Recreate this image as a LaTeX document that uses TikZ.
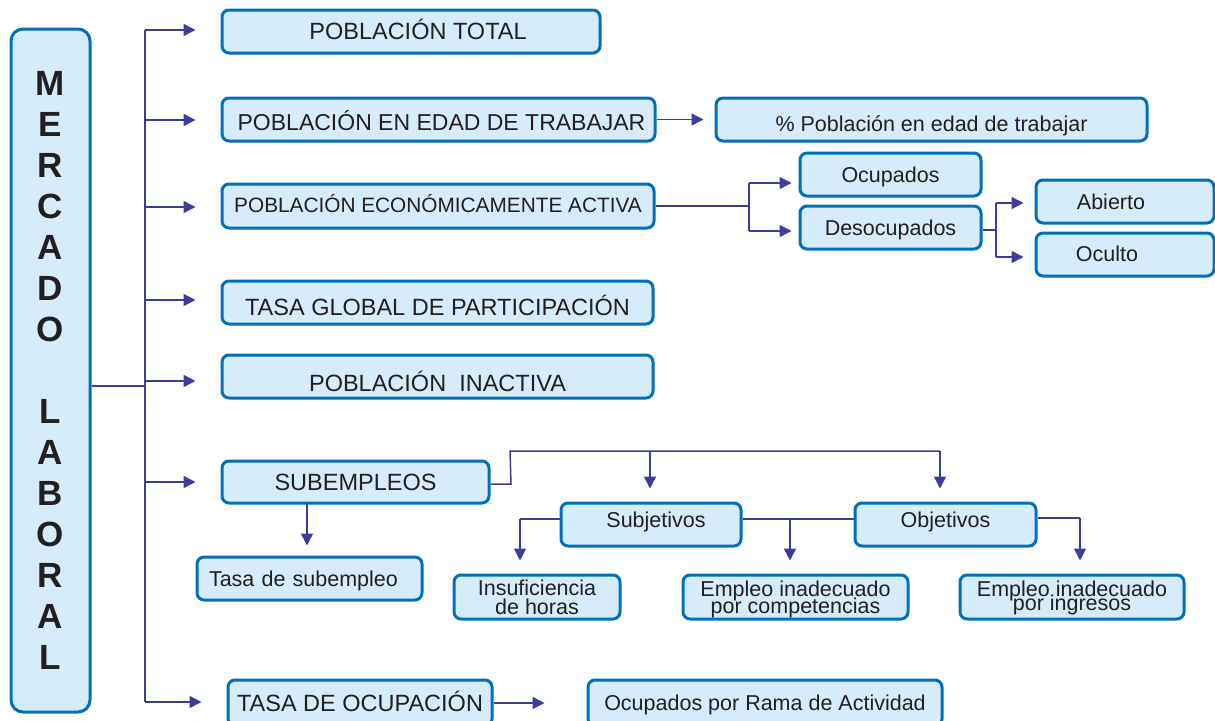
\documentclass[tikz,border=0pt]{standalone}
\usepackage{fontspec}
\setmainfont{Liberation Sans}
\usetikzlibrary{arrows.meta}
\definecolor{bord}{RGB}{0,112,187}
\definecolor{fillc}{RGB}{214,236,250}
\definecolor{conn}{RGB}{60,60,155}
\definecolor{txt}{RGB}{35,31,32}
\newcommand\tightlines{\lineskiplimit -50pt\relax}
\begin{document}
\begin{tikzpicture}[x=1pt,y=-1pt,
  box/.style={draw=bord, fill=fillc, line width=3pt, rounded corners=7pt, inner sep=0pt,
    text=txt, font=\fontsize{21.5}{19}\selectfont, align=center,
    text height=15.4pt, text depth=0pt},
  caps/.style={font=\fontsize{23.5}{24}\selectfont, text height=16.8pt},
  two/.style={text height=, text depth=},
  ln/.style={draw=conn, line width=1.5pt},
  arr/.style={ln, -{Triangle[length=12pt,width=12pt]}}]
\useasboundingbox (0,0) rectangle (1215,720);
% main column
\node[box, two, rounded corners=12pt, minimum width=79pt, minimum height=683pt,
  font=\fontsize{35}{41}\bfseries] (mer) at (50.5,370.5)
  {M\\E\\R\\C\\A\\D\\O\\[41pt]L\\A\\B\\O\\R\\A\\L};
% boxes
\node[box,caps,minimum width=378pt,minimum height=43pt] (tot) at (411,31.5) {\hspace*{14pt}POBLACIÓN TOTAL};
\node[box,caps,font=\fontsize{23}{24}\selectfont,text height=21pt,minimum width=433pt,minimum height=43pt] (pet) at (438.5,119.5) {\hspace*{6pt}POBLACIÓN EN EDAD DE TRABAJAR};
\node[box,text height=23pt,minimum width=431pt,minimum height=43pt] (pct) at (931.5,119.5) {\% Población en edad de trabajar};
\node[box,font=\fontsize{20.8}{22}\selectfont,text height=12.6pt,minimum width=432pt,minimum height=44pt] (pea) at (438,206) {POBLACIÓN ECONÓMICAMENTE ACTIVA};
\node[box,minimum width=181pt,minimum height=43pt] (ocu) at (890.5,174.5) {Ocupados};
\node[box,minimum width=181pt,minimum height=43pt] (des) at (890.5,227.5) {Desocupados};
\node[box,minimum width=178pt,minimum height=43pt] (abi) at (1125,201.5) {\hspace*{-28pt}Abierto};
\node[box,text height=13pt,minimum width=178pt,minimum height=43pt] (ocl) at (1125,254.5) {\hspace*{-36pt}Oculto};
\node[box,caps,text height=25pt,minimum width=431pt,minimum height=43pt] (tgp) at (437.5,302.5) {TASA GLOBAL DE PARTICIPACIÓN};
\node[box,caps,text height=30.4pt,minimum width=431pt,minimum height=43pt] (ina) at (437.5,376.5) {POBLACIÓN\ \ INACTIVA};
\node[box,caps,minimum width=267pt,minimum height=42pt] (sub) at (355.5,482) {SUBEMPLEOS};
\node[box,text width=201pt,align=left,inner xsep=12pt,minimum height=43pt] (tsu) at (309.5,578.5) {Tasa de subempleo};
\node[box,text height=6pt,minimum width=180pt,minimum height=43pt] (sbj) at (651,524.5) {\hspace*{10pt}Subjetivos};
\node[box,text height=6pt,minimum width=181pt,minimum height=43pt] (obj) at (945.5,524.5) {Objetivos};
\node[box,two,font={\fontsize{21.5}{19}\selectfont\tightlines},minimum width=166pt,minimum height=44pt] (ins) at (537,597)
  {\rule{0pt}{16pt}Insuficiencia\\de horas\rule[-1pt]{0pt}{1pt}};
\node[box,two,font={\fontsize{21.5}{16.5}\selectfont\tightlines},minimum width=225pt,minimum height=44pt] (eic) at (795.5,597)
  {\rule{0pt}{20.9pt}Empleo inadecuado\\por competencias\rule[-5pt]{0pt}{5pt}};
\node[box,two,font={\fontsize{21.5}{14}\selectfont\tightlines},minimum width=224pt,minimum height=44pt] (eii) at (1072,597)
  {\rule{0pt}{17pt}Empleo inadecuado\\por ingresos\rule[-5pt]{0pt}{5pt}};
\node[box,caps,minimum width=264pt,minimum height=46pt] (toc) at (360,703) {TASA DE OCUPACIÓN};
\node[box,minimum width=354pt,minimum height=46pt] (ora) at (765,703) {Ocupados por Rama de Actividad};
% trunk
\coordinate (tr1) at (145,30);
\coordinate (tr2) at (145,702);
\coordinate (mj) at (145,386);
\draw[ln] (tr1) -- (tr2);
\draw[ln] (mer.east |- mj) -- (mj);
\foreach \n/\y in {tot/30,pet/120,pea/207,tgp/300,ina/381,sub/482,toc/702}{
  \coordinate (a\n) at (145,\y);
  \draw[arr, shorten >=25pt] (a\n) -- (a\n -| \n.west);
}
% pet -> pct
\draw[arr, shorten >=11pt] (pet.east) -- (pct.west);
% pea -> ocupados / desocupados
\coordinate (pj) at (749,206);
\coordinate (pj1) at (749,183);
\coordinate (pj2) at (749,231);
\draw[ln] (pea.east) -- (pj);
\draw[ln] (pj1) -- (pj2);
\draw[arr, shorten >=7pt] (pj1) -- (pj1 -| ocu.west);
\draw[arr, shorten >=7pt] (pj2) -- (pj2 -| des.west);
% desocupados -> abierto / oculto
\coordinate (dj) at (996,230);
\coordinate (dj1) at (996,203);
\coordinate (dj2) at (996,257);
\draw[ln] (des.east |- dj) -- (dj);
\draw[ln] (dj1) -- (dj2);
\draw[arr, shorten >=11pt] (dj1) -- (dj1 -| abi.west);
\draw[arr, shorten >=11pt] (dj2) -- (dj2 -| ocl.west);
% subempleos -> tasa de subempleo
\coordinate (s1) at (307,503);
\draw[arr, shorten >=10pt] (s1) -- (s1 |- tsu.north);
% subempleos -> subjetivos / objetivos
\coordinate (sb1) at (511,484);
\coordinate (sb2) at (510,451);
\coordinate (sb3) at (650,451);
\coordinate (sb4) at (940,451);
\draw[ln] (sub.east |- sb1) -- (sb1) -- (sb2) -- (sb4);
\draw[arr, shorten >=13pt] (sb3) -- (sb3 |- sbj.north);
\draw[arr, shorten >=13pt] (sb4) -- (sb4 |- obj.north);
% subjetivos -> insuficiencia
\coordinate (j1) at (520,519);
\draw[ln] (sbj.west |- j1) -- (j1);
\draw[arr, shorten >=13pt] (j1) -- (j1 |- ins.north);
% subjetivos -- objetivos, -> competencias
\coordinate (j2) at (790,519);
\draw[ln] (sbj.east |- j2) -- (obj.west |- j2);
\draw[arr, shorten >=13pt] (j2) -- (j2 |- eic.north);
% objetivos -> ingresos
\coordinate (j3) at (1080,518);
\draw[ln] (obj.east |- j3) -- (j3);
\draw[arr, shorten >=13pt] (j3) -- (j3 |- eii.north);
% tasa de ocupacion -> ocupados por rama
\draw[arr, shorten >=42pt] (toc.east) -- (ora.west);
\end{tikzpicture}
\end{document}
